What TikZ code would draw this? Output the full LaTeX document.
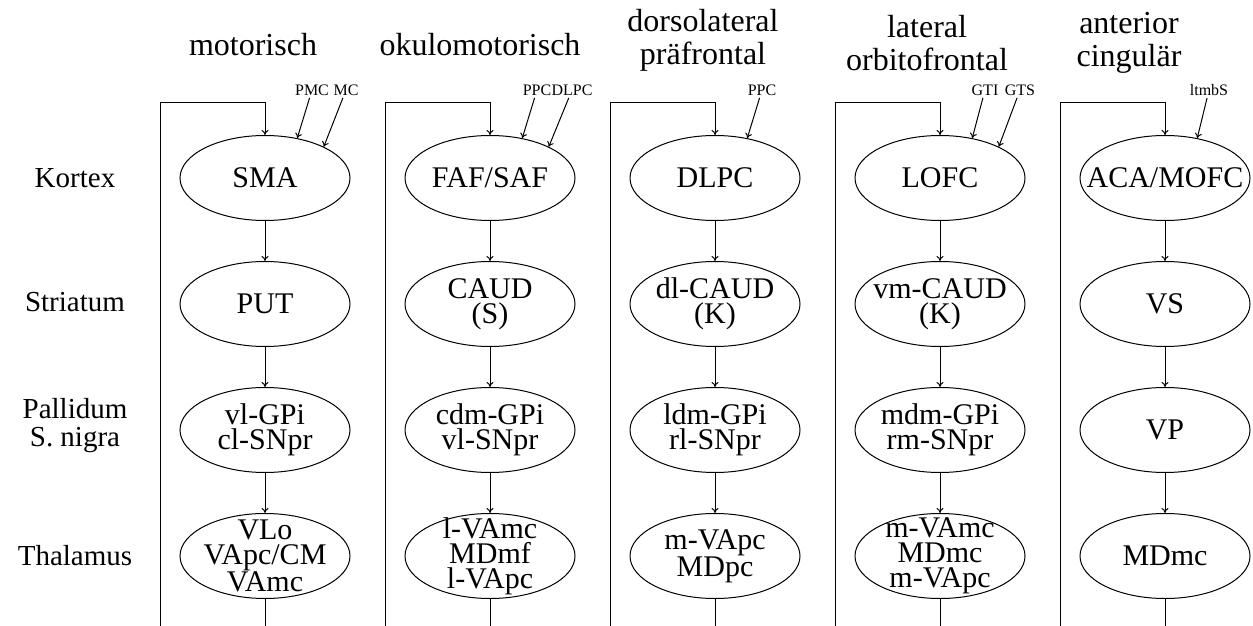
\documentclass[tikz,border=0pt]{standalone}
\usepackage{fontspec}
\setmainfont{Liberation Serif}
\usetikzlibrary{arrows.meta,positioning,shapes.geometric}

\tikzset{
	region/.style={ellipse,draw,line width=1pt,minimum width=170pt,minimum height=85pt,inner sep=0pt},
	nametext/.style={align=center,inner sep=0pt,font=\fontsize{30}{25}\selectfont},
	rowlabel/.style={align=center,font=\fontsize{29}{28}\selectfont},
	loophead/.style={align=center,font=\fontsize{32}{33}\selectfont},
	afferent/.style={font=\fontsize{16}{16}\selectfont,inner sep=2pt}
}

\begin{document}
\begin{tikzpicture}[x=1pt,y=1pt,node distance=126pt and 225pt,on grid,line width=1pt,>={To[length=5pt,width=7pt]}]
	\useasboundingbox (0,0) rectangle (1253,625);

	% Kortex
	\node[region,label={[nametext]center:SMA}] (sma) at (265,447) {};
	\node[region,right=of sma,label={[nametext]center:FAF/SAF}] (faf) {};
	\node[region,right=of faf,label={[nametext]center:DLPC}] (dlpc) {};
	\node[region,right=of dlpc,label={[nametext]center:LOFC}] (lofc) {};
	\node[region,right=of lofc,label={[nametext]center:ACA/MOFC}] (aca) {};
	% Striatum
	\node[region,below=of sma,label={[nametext]center:PUT}] (put) {};
	\node[region,below=of faf,label={[nametext]center:CAUD\\(S)}] (caud) {};
	\node[region,below=of dlpc,label={[nametext]center:dl-CAUD\\(K)}] (dlcaud) {};
	\node[region,below=of lofc,label={[nametext]center:vm-CAUD\\(K)}] (vmcaud) {};
	\node[region,below=of aca,label={[nametext]center:VS}] (vs) {};
	% Pallidum / S. nigra
	\node[region,below=of put,label={[nametext]center:vl-GPi\\cl-SNpr}] (gp1) {};
	\node[region,below=of caud,label={[nametext]center:cdm-GPi\\vl-SNpr}] (gp2) {};
	\node[region,below=of dlcaud,label={[nametext]center:ldm-GPi\\rl-SNpr}] (gp3) {};
	\node[region,below=of vmcaud,label={[nametext]center:mdm-GPi\\rm-SNpr}] (gp4) {};
	\node[region,below=of vs,label={[nametext]center:VP}] (vp) {};
	% Thalamus
	\node[region,below=of gp1,label={[nametext]center:VLo\\VApc/CM\\VAmc}] (th1) {};
	\node[region,below=of gp2,label={[nametext]center:l-VAmc\\MDmf\\l-VApc}] (th2) {};
	\node[region,below=of gp3,label={[nametext]center:m-VApc\\MDpc}] (th3) {};
	\node[region,below=of gp4,label={[nametext]center:m-VAmc\\MDmc\\m-VApc}] (th4) {};
	\node[region,below=of vp,label={[nametext]center:MDmc}] (th5) {};

	% row and column headings
	\node[rowlabel] (kortex) at (75,447) {Kortex};
	\node[rowlabel] (striatum) at (75,323) {Striatum};
	\node[rowlabel] (pallidum) at (75,199) {Pallidum\\S. nigra};
	\node[rowlabel] (thalamus) at (75,69) {Thalamus};
	\node[loophead] (motor) at (253,580) {motorisch};
	\node[loophead] (okulo) at (480,580) {okulomotorisch};
	\node[loophead] (dlpf) at (703,585) {dorsolateral\\präfrontal};
	\node[loophead] (lof) at (927,582) {lateral\\orbitofrontal};
	\node[loophead] (acing) at (1129,582) {anterior\\cingulär};

	% cortical inputs
	\node[afferent] (pmc) at (312,535) {PMC};
	\node[afferent] (mc) at (346,535) {MC};
	\node[afferent] (ppc2) at (537,535) {PPC};
	\node[afferent] (dlpc2) at (572,535) {DLPC};
	\node[afferent] (ppc3) at (762,535) {PPC};
	\node[afferent] (gti) at (985,535) {GTI};
	\node[afferent] (gts) at (1020,535) {GTS};
	\node[afferent] (ltmbs) at (1209,535) {ltmbS};
	\draw[->] (pmc) -- (sma.51);
	\draw[->] (mc) -- (sma.28);
	\draw[->] (ppc2) -- (faf.51);
	\draw[->] (dlpc2) -- (faf.28);
	\draw[->] (ppc3) -- (dlpc.51);
	\draw[->] (gti) -- (lofc.51);
	\draw[->] (gts) -- (lofc.28);
	\draw[->] (ltmbs) -- (aca.51);

	% down each loop
	\path (sma) edge[->] (put) (put) edge[->] (gp1) (gp1) edge[->] (th1)
		 (faf) edge[->] (caud) (caud) edge[->] (gp2) (gp2) edge[->] (th2)
		 (dlpc) edge[->] (dlcaud) (dlcaud) edge[->] (gp3) (gp3) edge[->] (th3)
		 (lofc) edge[->] (vmcaud) (vmcaud) edge[->] (gp4) (gp4) edge[->] (th4)
		 (aca) edge[->] (vs) (vs) edge[->] (vp) (vp) edge[->] (th5);

	% back to the cortex
	\draw[->] (th1.south) -- ++(0,-30) -| ([xshift=-105pt,yshift=32pt]sma.north) -- ([yshift=32pt]sma.north) -- (sma.north);
	\draw[->] (th2.south) -- ++(0,-30) -| ([xshift=-105pt,yshift=32pt]faf.north) -- ([yshift=32pt]faf.north) -- (faf.north);
	\draw[->] (th3.south) -- ++(0,-30) -| ([xshift=-105pt,yshift=32pt]dlpc.north) -- ([yshift=32pt]dlpc.north) -- (dlpc.north);
	\draw[->] (th4.south) -- ++(0,-30) -| ([xshift=-105pt,yshift=32pt]lofc.north) -- ([yshift=32pt]lofc.north) -- (lofc.north);
	\draw[->] (th5.south) -- ++(0,-30) -| ([xshift=-105pt,yshift=32pt]aca.north) -- ([yshift=32pt]aca.north) -- (aca.north);
\end{tikzpicture}
\end{document}
